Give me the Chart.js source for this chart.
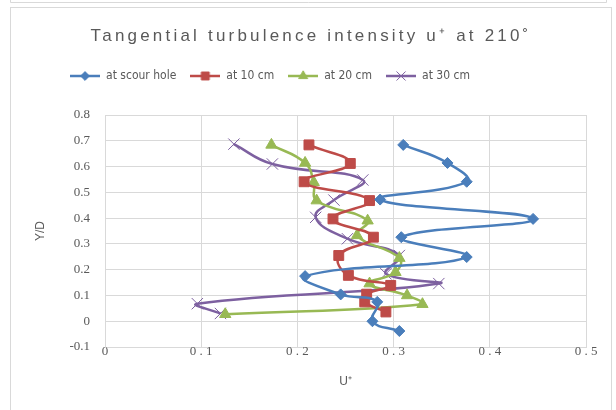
<!DOCTYPE html>
<html>
<head>
<meta charset="utf-8">
<script src="https://cdn.jsdelivr.net/npm/chart.js@4.4.1/dist/chart.umd.min.js"></script>
<style>
  html, body { margin: 0; padding: 0; background: #fff; }
  #wrap { position: relative; width: 616px; height: 410px; }
</style>
</head>
<body>
<div id="wrap"><canvas id="chart"></canvas></div>
<script>
// --- data ---
const chartTitle = 'Tangential turbulence intensity u\u207A at 210\u02DA';
const seriesNames = ['at scour hole', 'at 10 cm', 'at 20 cm', 'at 30 cm'];

const scourX = [0.310, 0.356, 0.376, 0.286, 0.445, 0.308, 0.376, 0.208, 0.245, 0.283, 0.278, 0.306];
const scourY = [0.684, 0.614, 0.541, 0.472, 0.397, 0.326, 0.249, 0.175, 0.104, 0.075, 0.000, -0.038];

const cm10X = [0.212, 0.255, 0.207, 0.275, 0.237, 0.279, 0.243, 0.253, 0.297, 0.272, 0.270, 0.292];
const cm10Y = [0.684, 0.612, 0.541, 0.468, 0.397, 0.326, 0.255, 0.178, 0.139, 0.105, 0.075, 0.036];

const cm20X = [0.173, 0.208, 0.217, 0.220, 0.273, 0.262, 0.306, 0.302, 0.275, 0.314, 0.330, 0.125];
const cm20Y = [0.684, 0.614, 0.539, 0.468, 0.390, 0.333, 0.245, 0.190, 0.146, 0.100, 0.066, 0.027];

const cm30X = [0.134, 0.174, 0.268, 0.238, 0.219, 0.252, 0.306, 0.292, 0.347, 0.096, 0.120];
const cm30Y = [0.687, 0.610, 0.548, 0.470, 0.403, 0.320, 0.255, 0.184, 0.146, 0.068, 0.030];

const xTicks = [0, 0.1, 0.2, 0.3, 0.4, 0.5];
const yTicks = [-0.1, 0, 0.1, 0.2, 0.3, 0.4, 0.5, 0.6, 0.7, 0.8];

const colors = ['#4a7ebb', '#be4b48', '#98b954', '#7d60a0'];
const markers = ['rectRot', 'rect', 'triangle', 'crossRot'];
const markerSize = [5.5, 7, 6.5, 8];

const textColor = '#595959';
const gridColor = '#d9d9d9';

function toPoints(xs, ys) {
    return xs.map((x, i) => ({ x: x, y: ys[i] }));
}

// small canvas with line + marker for the legend, like Excel draws it
function legendIcon(i) {
    const c = document.createElement('canvas');
    c.width = 30; c.height = 14;
    const g = c.getContext('2d');
    g.strokeStyle = colors[i];
    g.lineWidth = 2.5;
    g.beginPath(); g.moveTo(0, 7); g.lineTo(30, 7); g.stroke();
    g.fillStyle = colors[i];
    g.lineWidth = 1;
    Chart.helpers.drawPoint(g, { pointStyle: markers[i], radius: markerSize[i] * 0.8, borderWidth: 1 }, 15, 7);
    return c;
}

const seriesX = [scourX, cm10X, cm20X, cm30X];
const seriesY = [scourY, cm10Y, cm20Y, cm30Y];

const datasets = seriesNames.map((name, i) => ({
    label: name,
    data: toPoints(seriesX[i], seriesY[i]),
    showLine: true,
    borderColor: colors[i],
    backgroundColor: colors[i],
    borderWidth: 2.5,
    tension: 0.45,
    pointStyle: markers[i],
    pointRadius: markerSize[i],
    pointBorderWidth: 1,
    pointBackgroundColor: colors[i],
    pointBorderColor: colors[i]
}));

// --- frame + spaced title (Excel stretches the title letters) ---
const framePlugin = {
    id: 'frame',
    afterLayout(chart) {
        // Excel leaves the legend a little left of centre
        chart.legend.left -= 28;
        chart.legend.right -= 28;
    },
    beforeDraw(chart) {
        const ctx = chart.ctx;
        ctx.save();
        ctx.fillStyle = '#fff';
        ctx.fillRect(0, 0, chart.width, chart.height);
        ctx.strokeStyle = gridColor;
        ctx.lineWidth = 1;
        ctx.strokeRect(10.5, 7.5, 601, 410);
        ctx.beginPath();
        ctx.moveTo(10.5, 0); ctx.lineTo(10.5, 2.5); ctx.lineTo(606.5, 2.5); ctx.lineTo(606.5, 0);
        ctx.stroke();
        ctx.restore();
    },
    afterDraw(chart) {
        const ctx = chart.ctx;
        ctx.save();
        ctx.font = '17px "Liberation Sans", Arial, sans-serif';
        ctx.letterSpacing = '3.2px';
        ctx.fillStyle = textColor;
        ctx.textAlign = 'center';
        ctx.textBaseline = 'middle';
        ctx.fillText(chartTitle, 311, 36);
        ctx.restore();
    }
};

new Chart(document.getElementById('chart'), {
    type: 'scatter',
    data: { datasets: datasets },
    plugins: [framePlugin],
    options: {
        responsive: true,
        maintainAspectRatio: false,
        animation: false,
        layout: { padding: { left: 10, right: 30, top: 56, bottom: 0 } },
        plugins: {
            title: { display: false },
            tooltip: { enabled: false },
            legend: {
                position: 'top',
                labels: {
                    usePointStyle: true,
                    pointStyleWidth: 30,
                    padding: 14,
                    color: textColor,
                    font: { family: '"Liberation Sans Narrow", "DejaVu Sans Condensed", sans-serif', size: 12 },
                    generateLabels: chart => chart.data.datasets.map((ds, i) => ({
                        text: ds.label,
                        pointStyle: legendIcon(i),
                        fillStyle: ds.borderColor,
                        strokeStyle: ds.borderColor,
                        lineWidth: 0,
                        hidden: false,
                        datasetIndex: i,
                        fontColor: textColor
                    }))
                }
            }
        },
        scales: {
            x: {
                type: 'linear',
                min: 0,
                max: 0.5,
                afterBuildTicks: s => { s.ticks = xTicks.map(v => ({ value: v })); },
                afterFit: s => { s.height = 63; },
                grid: { color: gridColor, drawTicks: false },
                border: { color: gridColor },
                ticks: {
                    padding: -3,
                    color: textColor,
                    font: { family: '"Liberation Serif", serif', size: 13 },
                    callback: v => v === 0 ? '0' : v.toFixed(1).split('').join(' ')
                },
                title: {
                    display: true,
                    text: 'U\u207A',
                    color: textColor,
                    font: { family: '"Liberation Sans", sans-serif', size: 12 },
                    padding: { top: 0, bottom: 21 }
                }
            },
            // empty spacer between legend and plot area
            gap: {
                type: 'linear',
                position: 'top',
                afterFit: s => { s.height = 23; },
                grid: { display: false },
                border: { display: false },
                ticks: { display: false }
            },
            y: {
                type: 'linear',
                min: -0.1,
                max: 0.8,
                afterBuildTicks: s => { s.ticks = yTicks.map(v => ({ value: v })); },
                afterFit: s => { s.width = 95; },
                grid: { color: gridColor, drawTicks: false },
                border: { color: gridColor },
                ticks: {
                    padding: 15,
                    color: textColor,
                    font: { family: '"Liberation Serif", serif', size: 13 },
                    callback: v => Math.abs(v) < 1e-9 ? '0' : v.toFixed(1)
                },
                title: {
                    display: true,
                    text: 'Y/D',
                    color: textColor,
                    font: { family: '"Liberation Sans", sans-serif', size: 12 },
                    padding: { top: 23, bottom: 0 }
                }
            }
        }
    }
});
</script>
</body>
</html>
